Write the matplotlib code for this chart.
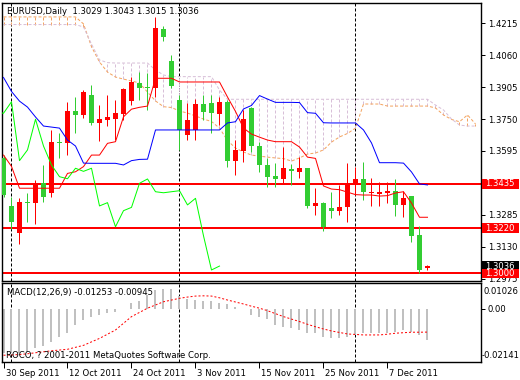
import numpy as np
import matplotlib
matplotlib.use("Agg")
import matplotlib.pyplot as plt
import matplotlib.transforms as mtransforms
from matplotlib.patches import Rectangle

# EURUSD daily bars, 30 Sep 2011 .. 14 Dec 2011
opens = [1.3559, 1.3328, 1.3195, 1.3343, 1.3341, 1.3438, 1.3390, 1.3637, 1.3635, 1.3791,
         1.3770, 1.3867, 1.3732, 1.3745, 1.3750, 1.3774, 1.3839, 1.3926, 1.3904, 1.3899,
         1.4187, 1.4033, 1.3842, 1.3672, 1.3697, 1.3823, 1.3826, 1.3774, 1.3834, 1.3548,
         1.3596, 1.3802, 1.3619, 1.3527, 1.3473, 1.3460, 1.3509, 1.3494, 1.3511, 1.3328,
         1.3344, 1.3319, 1.3305, 1.3324, 1.3435, 1.3459, 1.3390, 1.3388, 1.3392, 1.3400,
         1.3333, 1.3376, 1.3187, 1.3029]
highs = [1.3575, 1.3373, 1.3366, 1.3390, 1.3454, 1.3527, 1.3697, 1.3681, 1.3834, 1.3856,
         1.3891, 1.3916, 1.3818, 1.3867, 1.3842, 1.3899, 1.3956, 1.3980, 1.3972, 1.4247,
         1.4202, 1.4061, 1.3867, 1.3827, 1.3846, 1.3867, 1.3867, 1.3859, 1.3842, 1.3648,
         1.3794, 1.3810, 1.3640, 1.3559, 1.3535, 1.3616, 1.3532, 1.3567, 1.3514, 1.3414,
         1.3349, 1.3397, 1.3430, 1.3535, 1.3519, 1.3543, 1.3462, 1.3446, 1.3446, 1.3457,
         1.3402, 1.3376, 1.3231, 1.3043]
lows = [1.3370, 1.3215, 1.3143, 1.3251, 1.3240, 1.3349, 1.3373, 1.3559, 1.3575, 1.3681,
        1.3754, 1.3721, 1.3645, 1.3716, 1.3648, 1.3745, 1.3818, 1.3842, 1.3794, 1.3859,
        1.4131, 1.3899, 1.3600, 1.3648, 1.3648, 1.3745, 1.3681, 1.3721, 1.3519, 1.3478,
        1.3543, 1.3591, 1.3494, 1.3421, 1.3418, 1.3438, 1.3430, 1.3462, 1.3316, 1.3284,
        1.3208, 1.3268, 1.3284, 1.3251, 1.3381, 1.3357, 1.3329, 1.3328, 1.3344, 1.3281,
        1.3276, 1.3154, 1.3001, 1.3015]
closes = [1.3381, 1.3251, 1.3349, 1.3340, 1.3438, 1.3373, 1.3640, 1.3633, 1.3791, 1.3770,
          1.3883, 1.3729, 1.3750, 1.3761, 1.3778, 1.3896, 1.3931, 1.3902, 1.3900, 1.4191,
          1.4150, 1.3910, 1.3697, 1.3745, 1.3823, 1.3786, 1.3778, 1.3834, 1.3548, 1.3600,
          1.3749, 1.3619, 1.3527, 1.3470, 1.3460, 1.3511, 1.3496, 1.3511, 1.3328, 1.3344,
          1.3227, 1.3305, 1.3321, 1.3438, 1.3459, 1.3397, 1.3392, 1.3397, 1.3402, 1.3333,
          1.3365, 1.3183, 1.3017, 1.3036]

# Ichimoku lines
tenkan = [1.3575, 1.3520, 1.3414, 1.3414, 1.3414, 1.3414, 1.3414, 1.3414, 1.3486, 1.3494,
          1.3519, 1.3575, 1.3575, 1.3632, 1.3640, 1.3761, 1.3798, 1.3807, 1.3813, 1.3948,
          1.3948, 1.3948, 1.3930, 1.3930, 1.3930, 1.3930, 1.3930, 1.3930, 1.3857, 1.3787,
          1.3706, 1.3677, 1.3662, 1.3648, 1.3640, 1.3640, 1.3640, 1.3614, 1.3565, 1.3559,
          1.3425, 1.3410, 1.3407, 1.3395, 1.3383, 1.3381, 1.3381, 1.3376, 1.3378, 1.3391,
          1.3397, 1.3342, 1.3273, 1.3273]
kijun = [1.3952, 1.3884, 1.3837, 1.3808, 1.3760, 1.3716, 1.3711, 1.3706, 1.3648, 1.3619,
         1.3536, 1.3535, 1.3535, 1.3535, 1.3535, 1.3527, 1.3548, 1.3554, 1.3555, 1.3697,
         1.3697, 1.3697, 1.3697, 1.3697, 1.3697, 1.3697, 1.3697, 1.3697, 1.3731, 1.3737,
         1.3799, 1.3816, 1.3864, 1.3847, 1.3831, 1.3831, 1.3831, 1.3830, 1.3781, 1.3778,
         1.3732, 1.3731, 1.3731, 1.3731, 1.3731, 1.3697, 1.3634, 1.3538, 1.3538, 1.3538,
         1.3536, 1.3493, 1.3435, 1.3430]
span_a = [1.4246] * 10 + [
    1.4212, 1.4101, 1.4027, 1.3978, 1.3954, 1.3944, 1.3935, 1.3925, 1.3881, 1.3838,
    1.3810, 1.3806, 1.3789, 1.3779, 1.3765, 1.3750, 1.3738, 1.3706, 1.3646, 1.3609,
    1.3590, 1.3575, 1.3570, 1.3565, 1.3561, 1.3558, 1.3546, 1.3561, 1.3580, 1.3585,
    1.3600, 1.3638, 1.3663, 1.3680, 1.3706, 1.3823, 1.3823, 1.3823, 1.3813,
    1.3813, 1.3813, 1.3813, 1.3813, 1.3813, 1.3804, 1.3770, 1.3748, 1.3737, 1.3770, 1.3726]
span_b = [1.4209] * 10 + [1.4197, 1.4114, 1.4037, 1.4024] + [1.4022] * 5 + [1.3988, 1.3964] \
    + [1.3956] * 6 + [1.3891] + [1.3846] * 26 + [1.3818, 1.3794, 1.3750, 1.3721, 1.3716, 1.3716]

macd_main = [-0.0180, -0.0180, -0.0178, -0.0174, -0.0160, -0.0151, -0.0133, -0.0113, -0.0099, -0.0066,
             -0.0046, -0.0032, -0.0025, -0.0016, -0.0012, -0.0003, 0.0022, 0.0032, 0.0055, 0.0076,
             0.0078, 0.0078, 0.0050, 0.0040, 0.0035, 0.0032, 0.0030, 0.0025, 0.0018, 0.0008,
             0.0000, -0.0025, -0.0035, -0.0043, -0.0066, -0.0073, -0.0079, -0.0086, -0.0097, -0.0099,
             -0.0113, -0.0120, -0.0120, -0.0113, -0.0106, -0.0099, -0.0097, -0.0097, -0.0097, -0.0093,
             -0.0086, -0.0093, -0.0106, -0.01253]
macd_signal = [-0.0188, -0.0187, -0.0185, -0.0182, -0.0178, -0.0174, -0.0170, -0.0167, -0.0164, -0.0156,
               -0.0148, -0.0134, -0.0120, -0.0103, -0.0086, -0.0059, -0.0032, -0.0015, 0.0002, 0.0015,
               0.0028, 0.0035, 0.0042, 0.0047, 0.0051, 0.0052, 0.0051, 0.0044, 0.0035, 0.0027,
               0.0019, 0.0010, 0.0002, -0.0008, -0.0020, -0.0032, -0.0042, -0.0052, -0.0063, -0.0073,
               -0.0082, -0.0090, -0.0096, -0.0102, -0.0104, -0.0106, -0.0106, -0.0106, -0.0103, -0.0099,
               -0.0097, -0.0095, -0.0095, -0.00945]

levels = [1.3435, 1.3220, 1.3000]
price_ticks = [1.4215, 1.4060, 1.3905, 1.3750, 1.3595, 1.3285, 1.3130, 1.2975]
date_pos = [0, 8, 16, 24, 32, 40, 48]
date_labels = ["30 Sep 2011", "12 Oct 2011", "24 Oct 2011", "3 Nov 2011",
               "15 Nov 2011", "25 Nov 2011", "7 Dec 2011"]
month_starts = [1, 22, 44]
macd_max, macd_min = 0.01026, -0.02141

W, H = 520, 380
PX = 0.72  # one pixel in points
BULL, BEAR = "#FF0000", "#32CD32"
font = dict(family="DejaVu Sans", size=6.1)

fig = plt.figure(figsize=(W / 100, H / 100), dpi=100)
fig.patch.set_facecolor("white")
ax = fig.add_axes([2 / W, 1 - 280.5 / H, 479 / W, 278 / H])
ax2 = fig.add_axes([2 / W, 1 - 361.7 / H, 479 / W, 78.4 / H])

n = len(closes)
idx = np.arange(n)
xlim = (-1.5 / 8, 477.5 / 8)

# cloud hatching + senkou spans
sidx = np.arange(len(span_a))
for i, a, b in zip(sidx, span_a, span_b):
    col = "#F4A460" if a > b else "#D8BFD8"
    ax.vlines(i, min(a, b), max(a, b), color=col, lw=PX, linestyles=(0, (3, 2)))
ax.plot(sidx, span_a, color="#F4A460", lw=PX, ls=(0, (3, 2)))
ax.plot(sidx, span_b, color="#D8BFD8", lw=PX, ls=(0, (3, 2)))

# horizontal levels
for lv in levels:
    ax.axhline(lv, color="red", lw=2 * PX, zorder=2)

# month separators
for m in month_starts:
    ax.axvline(m, color="black", lw=PX, ls=(0, (3, 2)), zorder=1)
    ax2.axvline(m, color="black", lw=PX, ls=(0, (3, 2)), zorder=1)

# candles
for i in idx:
    o, h, l, c = opens[i], highs[i], lows[i], closes[i]
    col = BULL if c >= o else BEAR
    ax.vlines(i, l, h, color=col, lw=PX, zorder=3)
    ax.bar(i, max(abs(c - o), 0.0006), bottom=min(o, c), width=0.68,
           color=col, lw=0, zorder=3)

# ichimoku lines
ax.plot(idx, tenkan, color="red", lw=PX, zorder=4)
ax.plot(idx, kijun, color="blue", lw=PX, zorder=4)
ax.plot(idx[:-25] - 1, closes[25:], color="#00FF00", lw=PX, zorder=4)  # chikou

ax.set_xlim(*xlim)
ax.set_ylim(1.29659, 1.43160)
ax.yaxis.tick_right()
ax.set_yticks(price_ticks)
ax.set_yticklabels(["%.4f" % t for t in price_ticks], **font)
ax.tick_params(axis="y", length=3, width=PX, pad=2)
ax.set_xticks([])
for s in ax.spines.values():
    s.set_linewidth(PX * 1.4)


# labels on the price scale
def price_box(p, text, fc, fg):
    y = 1 - (23.3 + (1.4215 - p) * 2059) / H
    fig.patches.append(Rectangle((482 / W, y - 4.7 / H), 37 / W, 9.4 / H,
                                 transform=fig.transFigure, fc=fc, ec="none", zorder=5))
    fig.text(485 / W, y, text, color=fg, va="center", ha="left", zorder=6, **font)


price_box(closes[-1], "%.4f" % closes[-1], "black", "white")
for lv in levels:
    price_box(lv, "%.4f" % lv, "red", "white")

# MACD panel
ax2.bar(idx, macd_main, width=0.25, color="#C0C0C0", lw=0)
ax2.plot(idx, macd_signal, color="red", lw=PX, ls=(0, (2, 2)))
ax2.set_xlim(*xlim)
ax2.set_ylim(macd_min, macd_max)
ax2.yaxis.tick_right()
ax2.set_yticks([0.0])
ax2.set_yticklabels(["0.00"], **font)
ax2.tick_params(axis="y", length=3, width=PX, pad=2)
fig.text(484 / W, 1 - 291 / H, "%.5f" % macd_max, va="center", ha="left", **font)
fig.text(482 / W, 1 - 355.5 / H, "%.5f" % macd_min, va="center", ha="left", **font)
ax2.set_xticks(date_pos)
ax2.set_xticklabels(date_labels, ha="left", **font)
ax2.tick_params(axis="x", length=4, width=PX, pad=1)
for lab in ax2.get_xticklabels():
    lab.set_transform(lab.get_transform() + mtransforms.ScaledTranslation(2 / 100, 0, fig.dpi_scale_trans))
for s in ax2.spines.values():
    s.set_linewidth(PX * 1.4)

fig.text(7 / W, 1 - 11 / H, "EURUSD,Daily  1.3029 1.3043 1.3015 1.3036", va="center", **font)
fig.text(7 / W, 1 - 293 / H, "MACD(12,26,9) -0.01253 -0.00945", va="center", **font)
fig.text(6 / W, 1 - 355 / H, "ROCO, ? 2001-2011 MetaQuotes Software Corp.", va="center", **font)

fig.savefig("out.png", dpi=100)
